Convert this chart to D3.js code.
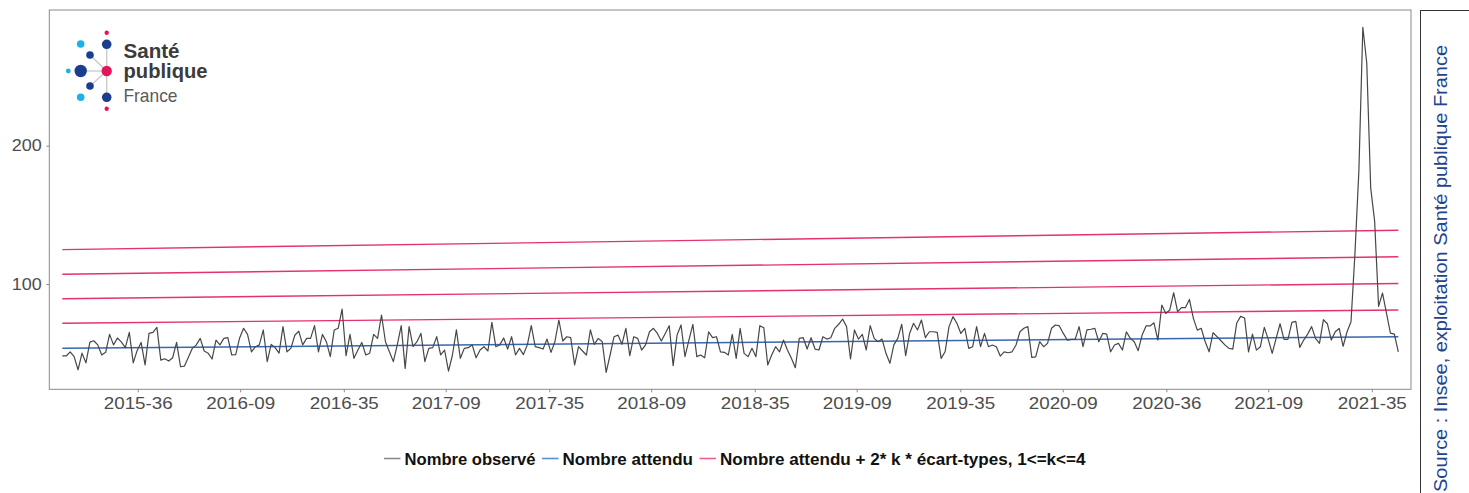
<!DOCTYPE html>
<html>
<head>
<meta charset="utf-8">
<script src="https://cdn.jsdelivr.net/npm/d3@7"></script>
<style>
  html, body { margin: 0; padding: 0; background: #fff; }
  svg { display: block; }
</style>
</head>
<body>
<svg id="chart" width="1469" height="493"></svg>
<script>
// ---------------- DATA ----------------
const firstWeek = "2015-04-20";           // first weekly observation (Monday)
const observed = [
  48, 48, 51, 47.5, 38, 50, 43, 58, 59, 56, 48.7, 50.6, 63.6, 56, 61, 58, 54, 65, 43, 52,
  57.8, 41.5, 64.3, 65, 68.7, 45, 46, 44.3, 46.7, 57.8, 40.2, 40.7, 47, 53.5, 56, 60.7, 51.6, 50, 45.8, 59.5,
  56, 60.7, 61.2, 48.7, 49, 61, 68, 63.6, 51, 54.7, 56, 66.8, 43.9, 56.4, 54, 50,
  69.2, 51, 53.5, 63, 66, 56, 60.7, 60.7, 69.9, 51, 63.6, 58.3, 47.5, 66.8, 68, 81.9, 48.2, 63.6, 46.3, 52.3,
  57.8, 48.7, 50, 63.6, 60.7, 77.6, 58.3, 51, 43.9, 56, 69.9, 39, 69.2, 54.7, 58.3, 64.3, 43.9, 53.5, 54, 62,
  48.7, 52.3, 37.1, 48.7, 66.8, 46.3, 53.5, 54, 56, 46.7, 52.3, 54.7, 51.6, 72.3, 54.7, 56,
  61, 53, 61.9, 48.7, 53.5, 49, 56, 69.9, 54.7, 54, 53, 60.2, 50.6, 58.3, 74, 58.8, 61.9, 61.2, 41.5, 54.7,
  51.6, 48.7, 66.8, 56.4, 60.7, 58.3, 36.1, 48.7, 61.9, 63.1, 56.4, 68, 48.2, 61.9, 60.7, 52.3, 56, 65.5, 68, 64.3,
  58.8, 64.3, 69.9, 41, 63.1, 70.4, 47.5, 59.5, 70.9, 47.5, 48.7, 46.7, 65.5, 61.2, 61.9, 51,
  50.6, 48.7, 63.6, 46.3, 68, 49.9, 47.5, 53.5, 47.5, 69.9, 68.4, 41.5, 48.7, 54.7, 51, 59.5, 52.3, 46.3, 39.5, 60.7,
  61.2, 53, 61.2, 53, 52.3, 61.9, 60.2, 61.2, 68, 70.9, 74.7, 69.2, 45.8, 66.8, 60.2, 63.6, 52.3, 69.9, 60.7, 58.3,
  60.2, 49.9, 42.7, 56, 60.7, 70.9, 48.2, 64.3, 71.6, 66.8, 74, 61.2, 65.5, 65.5, 65, 46.3,
  51, 69.2, 76.4, 71.6, 64.3, 68, 53.5, 54.7, 69.2, 54.7, 64.3, 54.7, 55.9, 54.7, 47.9, 51, 50.3, 51, 55.9, 65.5,
  68, 69.2, 47, 47.4, 58.3, 54.7, 57.1, 68, 70.4, 69.7, 64.3, 59.5, 60, 60, 69.2, 54.7, 66.8, 67.3, 68, 58.3,
  64.3, 63.8, 51, 55.9, 57.1, 52.3, 65.5, 60.7, 58.3, 51.8, 63.1, 69.7, 69.7, 72, 59.5,
  84.8, 78.7, 81.2, 93.7, 80, 83, 83, 88.9, 75.2, 66.7, 68, 58.3, 51, 64.8, 62, 59, 56, 53.6, 52.9, 71.8,
  76.6, 75.4, 51, 63.8, 52.2, 54.7, 68.7, 60, 49.9, 60.7, 71.3, 60, 60, 72.3, 73, 54.2, 59.5, 63.8, 69.2, 60.7,
  57.1, 74.2, 71.3, 59.5, 65.5, 67.9, 55, 65.5, 72.8, 122, 182, 285.6, 259.6, 169.3, 145.3, 83.8, 93.5, 79, 64.5, 63.8,
  51
];
// expected count: value at first week, value at last week (straight trend)
const expectedEnds = [53.5, 61.9];
// expected + 2*k*sd, k = 1..4 : [first week, last week]
const thresholdK1 = [71.6, 81.2];
const thresholdK2 = [89.4, 100.4];
const thresholdK3 = [107.1, 119.7];
const thresholdK4 = [124.9, 138.9];
const xTickDates = ["2015-09-01","2016-03-01","2016-09-01","2017-03-01","2017-09-01","2018-03-01",
  "2018-09-01","2019-03-01","2019-09-01","2020-03-01","2020-09-01","2021-03-01","2021-09-01"];
const yTickValues = [100, 200];
const legendLabels = ["Nombre observé", "Nombre attendu", "Nombre attendu + 2* k * écart-types, 1<=k<=4"];
const sourceText = "Source : Insee, exploitation Santé publique France";

// ---------------- LAYOUT ----------------
const panel = { left: 49.3, right: 1411, top: 10, bottom: 389.3 };
const colObs = "#474747", colExp = "#3767b1", colThr = "#e5316d";
const axisCol = "#8a8a8a", tickTextCol = "#4d4d4d";

const svg = d3.select("#chart");
const parse = d3.utcParse("%Y-%m-%d");
const start = parse(firstWeek);
const dates = observed.map((_, i) => d3.utcDay.offset(start, 7 * i));
const firstDate = dates[0], lastDate = dates[dates.length - 1];

const x = d3.scaleUtc().domain([firstDate, lastDate]).range([62.3, 1398.3]);
const y = d3.scaleLinear().domain([23.9, 298.1]).range([panel.bottom, panel.top]);

// panel
svg.append("rect").attr("x", 0).attr("y", 0).attr("width", 1469).attr("height", 493).attr("fill", "#fff");
svg.append("rect")
  .attr("x", panel.left).attr("y", panel.top)
  .attr("width", panel.right - panel.left).attr("height", panel.bottom - panel.top)
  .attr("fill", "none").attr("stroke", axisCol).attr("stroke-width", 1);

// axes
const fmt = d3.utcFormat("%G-%V");
const xAxis = d3.axisBottom(x).tickValues(xTickDates.map(parse)).tickFormat(fmt).tickSize(3).tickPadding(5);
const gx = svg.append("g").attr("transform", `translate(0,${panel.bottom})`).call(xAxis);
gx.select(".domain").remove();
gx.selectAll(".tick line").attr("stroke", axisCol);
gx.selectAll(".tick text")
  .attr("fill", tickTextCol)
  .style("font-family", "'Liberation Sans', Arial, sans-serif")
  .style("font-size", "16.5px")
  .attr("textLength", 69).attr("lengthAdjust", "spacingAndGlyphs");

const yAxis = d3.axisLeft(y).tickValues(yTickValues).tickSize(3).tickPadding(4.5);
const gy = svg.append("g").attr("transform", `translate(${panel.left},0)`).call(yAxis);
gy.select(".domain").remove();
gy.selectAll(".tick line").attr("stroke", axisCol);
gy.selectAll(".tick text")
  .attr("fill", tickTextCol)
  .style("font-family", "'Liberation Sans', Arial, sans-serif")
  .style("font-size", "16.5px")
  .attr("textLength", 30).attr("lengthAdjust", "spacingAndGlyphs");

// threshold & expected lines
const ends = vals => [[firstDate, vals[0]], [lastDate, vals[1]]];
const line2 = d3.line().x(d => x(d[0])).y(d => y(d[1]));
[thresholdK1, thresholdK2, thresholdK3, thresholdK4].forEach(t => {
  svg.append("path").attr("d", line2(ends(t)))
    .attr("fill", "none").attr("stroke", colThr).attr("stroke-width", 1.4);
});
svg.append("path").attr("d", line2(ends(expectedEnds)))
  .attr("fill", "none").attr("stroke", colExp).attr("stroke-width", 1.5);

// observed
const lineObs = d3.line().x((d, i) => x(dates[i])).y(d => y(d));
svg.append("path").attr("d", lineObs(observed))
  .attr("fill", "none").attr("stroke", colObs).attr("stroke-width", 1.2).attr("stroke-linejoin", "round");

// legend (text widths matched to the reference)
const legCols = ["#8c8c8c", "#5b8fd1", "#ef5f8e"];
const legWidths = [131, 130.5, 365.5];
const leg = svg.append("g");
let lx = 384;
const ly = 458.5;
legendLabels.forEach((lab, i) => {
  leg.append("line").attr("x1", lx).attr("x2", lx + 16.5).attr("y1", ly).attr("y2", ly)
    .attr("stroke", legCols[i]).attr("stroke-width", 1.6);
  leg.append("text").attr("x", lx + 20.5).attr("y", 465)
    .style("font-family", "'Liberation Sans', Arial, sans-serif")
    .style("font-weight", "bold").style("font-size", "16.7px").attr("fill", "#111")
    .attr("textLength", legWidths[i]).attr("lengthAdjust", "spacingAndGlyphs")
    .text(lab);
  lx = lx + 20.5 + legWidths[i] + 6.5;
});

// source box
svg.append("rect").attr("x", 1420.5).attr("y", 10.5).attr("width", 60).attr("height", 500)
  .attr("fill", "none").attr("stroke", "#333").attr("stroke-width", 1);
svg.append("text")
  .attr("transform", "translate(1446.5,45) rotate(-90)")
  .attr("text-anchor", "end")
  .attr("fill", "#23438f")
  .style("font-family", "'Liberation Sans', Arial, sans-serif")
  .style("font-size", "19px")
  .attr("textLength", 447).attr("lengthAdjust", "spacingAndGlyphs")
  .text(sourceText);

// logo (Santé publique France)
const logo = svg.append("g");
const lc = "#c9c9c9";
[[106.7, 44.3, 106.7, 97.3], [80.7, 71, 106.7, 71], [90, 55, 106.7, 71], [90, 86, 106.7, 71]].forEach(s => {
  logo.append("line").attr("x1", s[0]).attr("y1", s[1]).attr("x2", s[2]).attr("y2", s[3])
    .attr("stroke", lc).attr("stroke-width", 1.3);
});
const cyan = "#1eb1e6", navy = "#1b3d8f", pink = "#e3165b";
[[106.7, 32.7, 2.2, pink], [80.7, 44, 3.8, cyan], [106.7, 44.3, 4.8, navy], [90, 55, 3.8, navy],
 [68.3, 71, 2.4, cyan], [80.7, 71, 6.2, navy], [106.7, 71, 5.2, pink], [90, 86, 3.8, navy],
 [80.7, 97.3, 3.8, cyan], [106.7, 97.3, 4.8, navy], [106.7, 108.7, 2.2, pink]].forEach(c => {
  logo.append("circle").attr("cx", c[0]).attr("cy", c[1]).attr("r", c[2]).attr("fill", c[3]);
});
const logoFont = "'Liberation Sans', Arial, sans-serif";
logo.append("text").attr("x", 123.5).attr("y", 57.5).text("Santé")
  .style("font-family", logoFont).style("font-weight", "bold").style("font-size", "20px")
  .attr("fill", "#3b3b3b").attr("textLength", 56).attr("lengthAdjust", "spacingAndGlyphs");
logo.append("text").attr("x", 123.5).attr("y", 77.5).text("publique")
  .style("font-family", logoFont).style("font-weight", "bold").style("font-size", "20px")
  .attr("fill", "#3b3b3b").attr("textLength", 84).attr("lengthAdjust", "spacingAndGlyphs");
logo.append("text").attr("x", 123.5).attr("y", 101.5).text("France")
  .style("font-family", logoFont).style("font-size", "19px")
  .attr("fill", "#5a5a5a").attr("textLength", 54).attr("lengthAdjust", "spacingAndGlyphs");
</script>
</body>
</html>
